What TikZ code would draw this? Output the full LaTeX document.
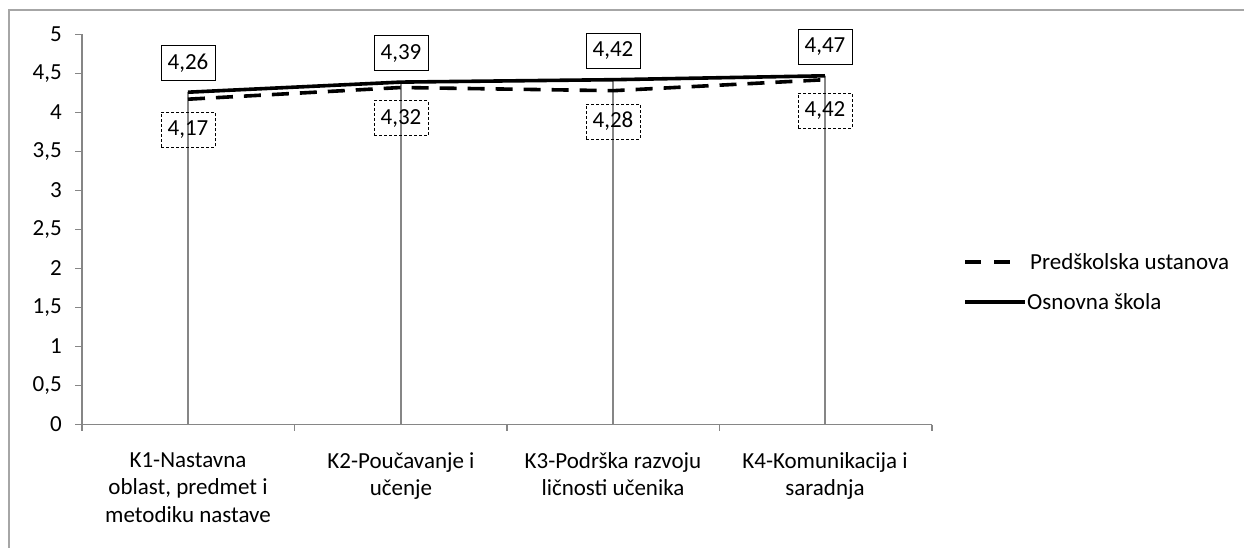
\documentclass[tikz,border=0pt]{standalone}
\usepackage{fontspec}
\setmainfont{Carlito}
\usetikzlibrary{positioning}
\definecolor{okvirsiv}{RGB}{166,166,166}
\definecolor{osasiva}{RGB}{134,134,134}

\begin{document}
\begin{tikzpicture}[x=1pt, y=-1pt, font=\fontsize{23}{27.5}\selectfont]
\tikzset{puna/.style={line width=3.6pt, line join=round},
  crtkana/.style={line width=3.6pt, dash pattern=on 17pt off 11pt},
  osa/.style={draw=osasiva, line width=1.2pt},
  vrednost/.style={draw, line width=0.9pt, minimum width=54pt, minimum height=35pt, inner sep=0pt},
  vrednostc/.style={vrednost, line width=0.6pt, dash pattern=on 3pt off 2pt},
  podeok/.style={anchor=east, inner sep=0pt},
  kategorija/.style={anchor=north, align=center, inner sep=0pt}}
\useasboundingbox (0,0) rectangle (1244,548);
\draw[okvirsiv, line width=1.8pt] (9,548) -- (9,10) -- (1244,10);
\draw[osa] (82,34.5) -- (82,424.5) -- (932,424.5);
\draw[osa] (75,424.5) -- (82,424.5);
\draw[osa] (75,385.5) -- (82,385.5);
\draw[osa] (75,346.5) -- (82,346.5);
\draw[osa] (75,307.5) -- (82,307.5);
\draw[osa] (75,268.5) -- (82,268.5);
\draw[osa] (75,229.5) -- (82,229.5);
\draw[osa] (75,190.5) -- (82,190.5);
\draw[osa] (75,151.5) -- (82,151.5);
\draw[osa] (75,112.5) -- (82,112.5);
\draw[osa] (75,73.5) -- (82,73.5);
\draw[osa] (75,34.5) -- (82,34.5);
\draw[osa] (82,424.5) -- (82,431);
\draw[osa] (294.5,424.5) -- (294.5,431);
\draw[osa] (507,424.5) -- (507,431);
\draw[osa] (719.5,424.5) -- (719.5,431);
\draw[osa] (932,424.5) -- (932,431);
\node[podeok] (Y0) at (62,424.5) {0};
\node[podeok] (Y1) at (62,385.5) {0,5};
\node[podeok] (Y2) at (62,346.5) {1};
\node[podeok] (Y3) at (62,307.5) {1,5};
\node[podeok] (Y4) at (62,268.5) {2};
\node[podeok] (Y5) at (62,229.5) {2,5};
\node[podeok] (Y6) at (62,190.5) {3};
\node[podeok] (Y7) at (62,151.5) {3,5};
\node[podeok] (Y8) at (62,112.5) {4};
\node[podeok] (Y9) at (62,73.5) {4,5};
\node[podeok] (Y10) at (62,34.5) {5};
\node[kategorija] (K1) at (188,452) {K1-Nastavna\\oblast, predmet i\\metodiku nastave};
\node[kategorija] (K2) at (401,452) {K2-Poučavanje i\\učenje};
\node[kategorija] (K3) at (613,452) {K3-Podrška razvoju\\ličnosti učenika};
\node[kategorija] (K4) at (825,452) {K4-Komunikacija i\\saradnja};
\coordinate (X1) at (188,424.5);
\coordinate (X2) at (401,424.5);
\coordinate (X3) at (613,424.5);
\coordinate (X4) at (825,424.5);
\coordinate (O1) at (188,92.2);
\coordinate (O2) at (401,82.1);
\coordinate (O3) at (613,79.7);
\coordinate (O4) at (825,75.8);
\coordinate (P1) at (188,99.2);
\coordinate (P2) at (401,87.5);
\coordinate (P3) at (613,90.7);
\coordinate (P4) at (825,79.7);
\draw[osa] (O1) -- (X1);
\draw[osa] (O2) -- (X2);
\draw[osa] (O3) -- (X3);
\draw[osa] (O4) -- (X4);
\draw[crtkana] (P1) -- (P2) -- (P3) -- (P4);
\draw[puna] (O1) -- (O2) -- (O3) -- (O4);
\node[vrednost, above=11pt of O1] (VO1) {4,26};
\node[vrednost, above=11pt of O2] (VO2) {4,39};
\node[vrednost, above=11pt of O3] (VO3) {4,42};
\node[vrednost, above=11pt of O4] (VO4) {4,47};
\node[vrednostc, below=13pt of P1] (VP1) {4,17};
\node[vrednostc, below=13pt of P2] (VP2) {4,32};
\node[vrednostc, below=13pt of P3] (VP3) {4,28};
\node[vrednostc, below=13pt of P4] (VP4) {4,42};
\coordinate (L1a) at (965,262);
\coordinate (L1b) at (1010,262);
\coordinate (L2a) at (965,302);
\coordinate (L2b) at (1025,302);
\draw[crtkana, dash pattern=on 16pt off 13pt] (L1a) -- (L1b);
\draw[puna] (L2a) -- (L2b);
\node[anchor=west, inner sep=0pt] (T1) at (1030,262) {Predškolska ustanova};
\node[anchor=west, inner sep=0pt] (T2) at (1027,302) {Osnovna škola};
\end{tikzpicture}
\end{document}
